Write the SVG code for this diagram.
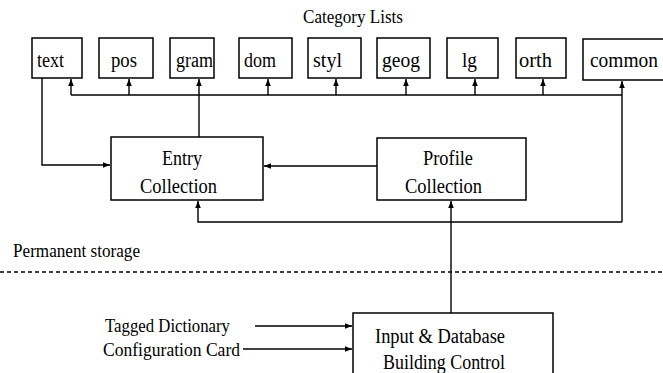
<svg xmlns="http://www.w3.org/2000/svg" width="663" height="373" viewBox="0 0 663 373">
<style>
  .box { fill: #fff; stroke: #000; stroke-width: 1.5; }
  .lbl { font-family: "Liberation Serif", "Times New Roman", serif; font-size: 20px; fill: #000; }
  .side { font-family: "Liberation Serif", "Times New Roman", serif; font-size: 19px; fill: #000; }
  .ln { fill: none; stroke: #000; stroke-width: 1.4; }
  .arr { fill: none; stroke: #000; stroke-width: 1.4; marker-end: url(#ah); }
  .dash { fill: none; stroke: #000; stroke-width: 1.4; stroke-dasharray: 4 3; }
</style>
<defs>
  <marker id="ah" viewBox="0 0 10 8" refX="10" refY="4" markerWidth="7" markerHeight="5.6" markerUnits="userSpaceOnUse" orient="auto">
    <path d="M0,0 L10,4 L0,8 Z" fill="#000"/>
  </marker>
</defs>
<rect width="663" height="373" fill="#fff"/>
<text class="side" x="303" y="23" textLength="100" lengthAdjust="spacingAndGlyphs">Category Lists</text>

<g id="text"><rect class="box" x="32" y="38" width="50" height="40"/><text class="lbl" x="37" y="67" textLength="27" lengthAdjust="spacingAndGlyphs">text</text></g>
<g id="pos"><rect class="box" x="99" y="38" width="54" height="40"/><text class="lbl" x="111" y="67" textLength="26" lengthAdjust="spacingAndGlyphs">pos</text></g>
<g id="gram"><rect class="box" x="170" y="38" width="44" height="40"/><text class="lbl" x="176" y="67" textLength="37" lengthAdjust="spacingAndGlyphs">gram</text></g>
<g id="dom"><rect class="box" x="239" y="38" width="53" height="40"/><text class="lbl" x="244" y="67" textLength="32" lengthAdjust="spacingAndGlyphs">dom</text></g>
<g id="styl"><rect class="box" x="308" y="38" width="53" height="40"/><text class="lbl" x="313" y="67" textLength="29" lengthAdjust="spacingAndGlyphs">styl</text></g>
<g id="geog"><rect class="box" x="377" y="38" width="53" height="40"/><text class="lbl" x="382" y="67" textLength="38" lengthAdjust="spacingAndGlyphs">geog</text></g>
<g id="lg"><rect class="box" x="447" y="38" width="51" height="40"/><text class="lbl" x="462" y="67" textLength="15" lengthAdjust="spacingAndGlyphs">lg</text></g>
<g id="orth"><rect class="box" x="516" y="38" width="50" height="40"/><text class="lbl" x="519" y="67" textLength="33" lengthAdjust="spacingAndGlyphs">orth</text></g>
<g id="common"><rect class="box" x="583" y="39" width="82" height="41"/><text class="lbl" x="590" y="67" textLength="68" lengthAdjust="spacingAndGlyphs">common</text></g>

<g id="entry"><rect class="box" x="111" y="137" width="152" height="63"/><text class="lbl" x="162" y="165" textLength="40" lengthAdjust="spacingAndGlyphs">Entry</text><text class="lbl" x="140" y="193" textLength="77" lengthAdjust="spacingAndGlyphs">Collection</text></g>
<g id="profile"><rect class="box" x="377" y="138" width="149" height="62"/><text class="lbl" x="423" y="165" textLength="50" lengthAdjust="spacingAndGlyphs">Profile</text><text class="lbl" x="405" y="193" textLength="77" lengthAdjust="spacingAndGlyphs">Collection</text></g>
<g id="input"><rect class="box" x="353" y="313" width="200" height="70"/><text class="lbl" x="375" y="343" textLength="130" lengthAdjust="spacingAndGlyphs">Input &amp; Database</text><text class="lbl" x="383" y="369" textLength="122" lengthAdjust="spacingAndGlyphs">Building Control</text></g>

<g id="labels">
  <text class="side" x="13" y="257" textLength="127" lengthAdjust="spacingAndGlyphs">Permanent storage</text>
  <text class="side" x="105" y="332" textLength="125" lengthAdjust="spacingAndGlyphs">Tagged Dictionary</text>
  <text class="side" x="103" y="356" textLength="137" lengthAdjust="spacingAndGlyphs">Configuration Card</text>
</g>

<g id="connectors">
  <path class="ln" d="M71,95 H622"/>
  <path class="arr" d="M71,95 V79"/>
  <path class="arr" d="M129,95 V79"/>
  <path class="arr" d="M199,137 V79"/>
  <path class="arr" d="M268,95 V79"/>
  <path class="arr" d="M336,95 V79"/>
  <path class="arr" d="M406,95 V79"/>
  <path class="arr" d="M475,95 V79"/>
  <path class="arr" d="M543,95 V79"/>
  <path class="arr" d="M622,222 V81"/>
  <path class="arr" d="M622,222 H198 V201"/>
  <path class="arr" d="M42,78 V165 H110"/>
  <path class="arr" d="M377,166 H264"/>
  <path class="arr" d="M451,313 V201"/>
  <path class="arr" d="M255,326 H352"/>
  <path class="arr" d="M243,349 H352"/>
  <path class="dash" d="M0,272 H663"/>
</g>
</svg>
